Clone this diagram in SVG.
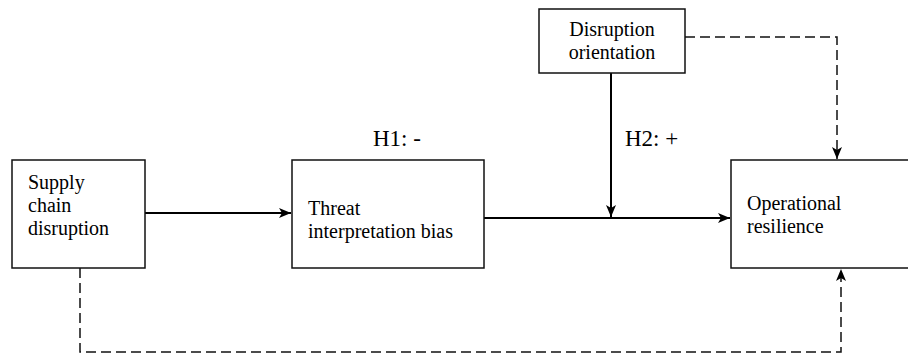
<svg xmlns="http://www.w3.org/2000/svg" width="908" height="356" viewBox="0 0 908 356">
<defs>
<style>
.box{fill:#fff;stroke:#111;stroke-width:1.5}
.t{font-family:"Liberation Serif","Times New Roman",serif;font-size:20px;fill:#000}
.h{font-family:"Liberation Serif","Times New Roman",serif;font-size:23px;fill:#000}
.solid{fill:none;stroke:#000;stroke-width:2}
.dash{fill:none;stroke:#111;stroke-width:1.5;stroke-dasharray:10,5}
</style>
<marker id="ah" viewBox="0 0 12 10" refX="12" refY="5" markerWidth="12" markerHeight="10" markerUnits="userSpaceOnUse" orient="auto">
<path d="M0,0 L12,5 L0,10 L3,5 Z" fill="#000"/>
</marker>
</defs>
<rect width="908" height="356" fill="#fff"/>
<g id="connectors">
<line class="solid" x1="145" y1="213" x2="291" y2="213" marker-end="url(#ah)"/>
<line class="solid" x1="484" y1="218" x2="730" y2="218" marker-end="url(#ah)"/>
<line class="solid" x1="611" y1="73" x2="611" y2="217" marker-end="url(#ah)"/>
<polyline class="dash" points="685,37 837,37 837,159" marker-end="url(#ah)"/>
<polyline class="dash" points="80,268 80,352 841,352 841,269" marker-end="url(#ah)"/>
</g>
<g id="supply-chain-disruption">
<rect class="box" x="12" y="160" width="133" height="108"/>
<text class="t" x="28" y="189">Supply</text>
<text class="t" x="28" y="212">chain</text>
<text class="t" x="28" y="235">disruption</text>
</g>
<g id="threat-interpretation-bias">
<rect class="box" x="292" y="160" width="192" height="108"/>
<text class="t" x="308" y="215">Threat</text>
<text class="t" x="308" y="238">interpretation bias</text>
</g>
<g id="disruption-orientation">
<rect class="box" x="539" y="9" width="146" height="64"/>
<text class="t" x="612" y="36" text-anchor="middle">Disruption</text>
<text class="t" x="612" y="59" text-anchor="middle">orientation</text>
</g>
<g id="operational-resilience">
<rect class="box" x="731" y="160" width="185" height="108"/>
<text class="t" x="747" y="210">Operational</text>
<text class="t" x="747" y="233">resilience</text>
</g>
<g id="labels">
<text class="h" x="373" y="146">H1: -</text>
<text class="h" x="625" y="146">H2: +</text>
</g>
</svg>
